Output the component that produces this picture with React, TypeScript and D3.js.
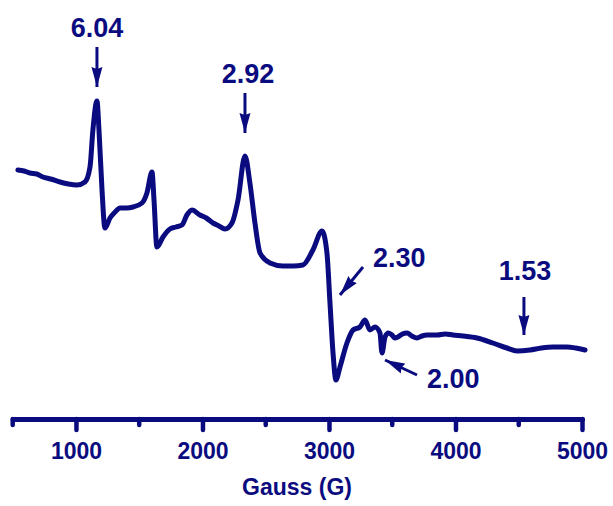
import * as d3 from "d3";
import React, { useEffect, useRef } from "react";

// EPR spectrum, field in Gauss, intensity in arbitrary units
const fieldG = [
  541, 590, 636, 690, 739, 800, 874, 940, 1008, 1071, 1111, 1134, 1166, 1182,
  1206, 1229, 1269, 1310, 1348, 1400, 1451, 1522, 1561, 1601, 1617, 1640, 1688,
  1743, 1790, 1838, 1877, 1917, 1980, 2030, 2083, 2130, 2178, 2233, 2281, 2336,
  2375, 2415, 2455, 2534, 2636, 2720, 2794, 2873, 2945, 2984, 3008, 3032, 3055,
  3087, 3142, 3190, 3245, 3285, 3324, 3364, 3403, 3419, 3443, 3470, 3498, 3520,
  3545, 3580, 3617, 3655, 3696, 3735, 3775, 3854, 3920, 3980, 4060, 4170, 4296,
  4407, 4486, 4589, 4680, 4771, 4881, 4950, 5024,
];
const intensity = [
  100, 99, 97, 96, 93, 91, 88, 86, 85, 88, 103, 140, 169, 140, 80, 42, 52, 58,
  62, 62, 63, 67, 77, 98, 70, 23, 33, 41, 43, 45, 55, 60, 55, 52, 47, 44, 41,
  47, 70, 114, 87, 47, 17, 7, 4, 4, 5, 20, 39, 17, -33, -83, -110, -97, -73,
  -60, -57, -50, -60, -57, -63, -83, -67, -63, -65, -68, -67, -64, -63, -66,
  -68, -66, -65, -65, -64, -65, -66, -68, -73, -78, -81, -80, -78, -77, -77,
  -78, -80,
];

// g-value annotations: label, arrow tip (field, intensity)
const gLabels = ["6.04", "2.92", "2.30", "2.00", "1.53"];
const gTipField = [1166, 2336, 3087, 3443, 4541];
const gTipIntensity = [183, 137, -25, -90, -65];

const majorTicks = [1000, 2000, 3000, 4000, 5000];
const minorTicks = [500, 1500, 2500, 3500, 4500];

const W = 613;
const H = 506;
const NAVY = "#0b0b80";
const FONT = "'Liberation Sans', Arial, sans-serif";

const App: React.FC = () => {
  const svgRef = useRef<SVGSVGElement>(null);

  useEffect(() => {
    if (!svgRef.current) return;
    const svg = d3.select(svgRef.current);
    svg.selectAll("*").remove();

    const x = d3.scaleLinear().domain([500, 5000]).range([12.7, 582]);
    const y = d3.scaleLinear().domain([-150, 200]).range([420, 70]);
    const axisY = 419;

    const defs = svg.append("defs");
    defs
      .append("marker")
      .attr("id", "head")
      .attr("viewBox", "0 0 20 12")
      .attr("refX", 20)
      .attr("refY", 6)
      .attr("markerUnits", "userSpaceOnUse")
      .attr("markerWidth", 20)
      .attr("markerHeight", 12)
      .attr("orient", "auto")
      .append("path")
      .attr("d", "M0,0.5 L20,6 L0,11.5 L2,6 Z")
      .attr("fill", NAVY);

    // spectrum
    const pts = fieldG.map((f, i) => [f, intensity[i]] as [number, number]);
    const line = d3
      .line<[number, number]>()
      .x((d) => x(d[0]))
      .y((d) => y(d[1]))
      .curve(d3.curveMonotoneX);
    svg
      .append("path")
      .attr("d", line(pts))
      .attr("fill", "none")
      .attr("stroke", NAVY)
      .attr("stroke-width", 5)
      .attr("stroke-linejoin", "round")
      .attr("stroke-linecap", "round");

    // x axis
    const ax = svg.append("g").attr("transform", `translate(0,${axisY})`);
    ax.call(
      d3
        .axisBottom(x)
        .tickValues(majorTicks)
        .tickSize(11)
        .tickSizeOuter(0)
        .tickPadding(13)
        .tickFormat(d3.format("d")),
    );
    ax.select(".domain")
      .attr("stroke", NAVY)
      .attr("stroke-width", 5)
      .attr("stroke-linecap", "round");
    ax.selectAll(".tick line")
      .attr("stroke", NAVY)
      .attr("stroke-width", 4.5)
      .attr("stroke-linecap", "round");
    ax.selectAll(".tick text")
      .attr("fill", NAVY)
      .style("font-family", FONT)
      .style("font-size", "23px")
      .style("font-weight", "bold");
    ax.selectAll("line.minor")
      .data(minorTicks)
      .join("line")
      .attr("class", "minor")
      .attr("x1", (d) => x(d))
      .attr("x2", (d) => x(d))
      .attr("y1", 0)
      .attr("y2", 6)
      .attr("stroke", NAVY)
      .attr("stroke-width", 4.5)
      .attr("stroke-linecap", "round");

    svg
      .append("text")
      .attr("x", 297)
      .attr("y", 495)
      .attr("text-anchor", "middle")
      .attr("fill", NAVY)
      .style("font-family", FONT)
      .style("font-size", "23px")
      .style("font-weight", "bold")
      .text("Gauss (G)");

    // annotations: arrow offsets (tail relative to tip) and text offsets (relative to tail)
    const tail = [
      [0, -40],
      [0, -40],
      [23, -28],
      [32, 15],
      [0, -38],
    ];
    const textPos = [
      { dx: 0, dy: -10, anchor: "middle" },
      { dx: 3, dy: -10, anchor: "middle" },
      { dx: 10, dy: 0, anchor: "start" },
      { dx: 10, dy: 13, anchor: "start" },
      { dx: 1, dy: -17, anchor: "middle" },
    ];
    gLabels.forEach((lab, i) => {
      const tx = x(gTipField[i]);
      const ty = y(gTipIntensity[i]);
      const sx = tx + tail[i][0];
      const sy = ty + tail[i][1];
      svg
        .append("line")
        .attr("x1", sx)
        .attr("y1", sy)
        .attr("x2", tx)
        .attr("y2", ty)
        .attr("stroke", NAVY)
        .attr("stroke-width", 3)
        .attr("marker-end", "url(#head)");
      svg
        .append("text")
        .attr("x", sx + textPos[i].dx)
        .attr("y", sy + textPos[i].dy)
        .attr("text-anchor", textPos[i].anchor)
        .attr("fill", NAVY)
        .style("font-family", FONT)
        .style("font-size", "27px")
        .style("font-weight", "bold")
        .text(lab);
    });
  }, []);

  return (
    <svg
      ref={svgRef}
      width={W}
      height={H}
      style={{ position: "absolute", left: 0, top: 0, background: "#fff" }}
    />
  );
};

export default App;
